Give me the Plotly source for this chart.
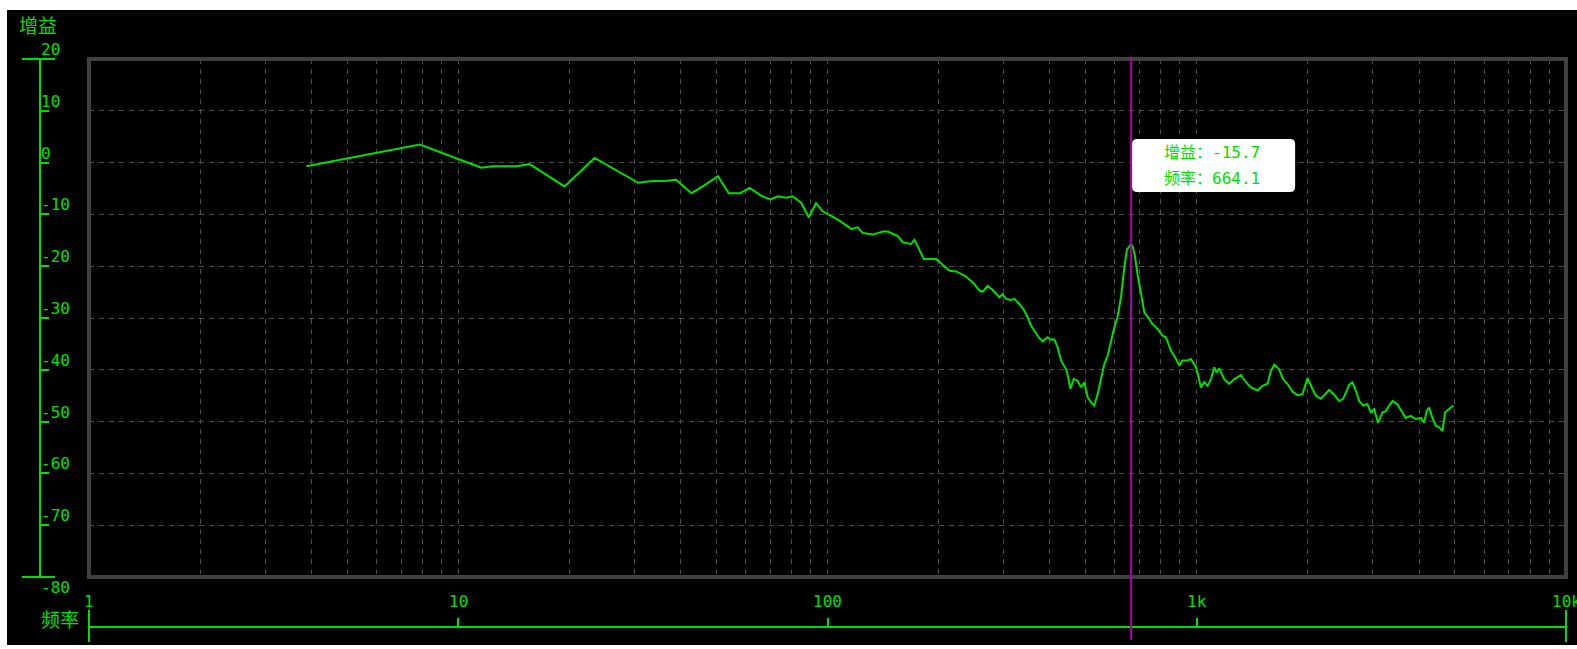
import math
import plotly.graph_objects as go

# Frequency response: frequency (Hz) and gain (dB)
FREQ = [3.88, 7.87, 11.55, 12.4, 14.4, 15.6, 19.4, 23.4, 30.7, 33.0, 36.6, 38.9,
        42.8, 46.4, 50.5, 54.0, 58.0, 61.5, 66.2, 70.0, 73.4, 77.3, 80.5, 84.9,
        89.0, 93.1, 97.1, 107.8, 115.9, 120.8, 124.6, 132.7, 141.2, 145.6, 155,
        160, 168.4, 172, 182.3, 196.8, 205, 214, 223, 227.6, 234.9, 247.4, 257.9,
        263.3, 271.5, 280.2, 292, 298, 304.4, 314, 320.7, 330.8, 341.3, 348.4,
        355.9, 363.3, 374.9, 382.5, 394.7, 403, 411.5, 420.2, 429, 442.6, 449,
        454.7, 464.2, 475.9, 486, 496, 506.5, 517, 528, 539, 550.4, 562, 573.8,
        586, 598, 610, 623.5, 636.6, 647, 655, 664.1, 672, 680, 691, 706, 721,
        743.6, 759, 783, 808, 825, 839, 851, 878.6, 896.7, 915, 944, 964, 978.5,
        995, 1009, 1026, 1048, 1070, 1093, 1115, 1132, 1150, 1187, 1225, 1264,
        1317, 1359, 1402, 1461, 1507, 1555, 1588, 1621, 1671, 1713, 1760, 1816,
        1875, 1933, 1995, 2058, 2102, 2168, 2213, 2283, 2355, 2430, 2492, 2586,
        2640, 2696, 2753, 2822, 2898, 2960, 3022, 3097, 3185, 3251, 3319, 3390,
        3497, 3606, 3681, 3798, 3918, 4044, 4128, 4198, 4258, 4330, 4436, 4532,
        4628, 4706, 4825, 4955]

GAIN = [-0.7, 3.5, -1.0, -0.7, -0.7, -0.3, -4.6, 0.9, -3.9, -3.6, -3.5, -3.3,
        -5.9, -4.4, -2.6, -5.9, -5.9, -4.9, -6.4, -7.1, -6.5, -6.8, -6.5, -7.8,
        -10.6, -7.8, -9.4, -11.2, -12.8, -12.5, -13.6, -13.9, -13.3, -13.3, -14.2,
        -15.4, -15.7, -14.9, -18.6, -18.6, -19.7, -20.9, -21.0, -21.3, -21.8, -23.1, -24.7,
        -24.9, -23.8, -24.6, -26.0, -25.4, -26.3, -26.5, -26.3, -27.3, -28.6, -29.9,
        -31.5, -32.5, -33.9, -34.5, -33.7, -34.2, -34.1, -35.7, -38.2, -39.9, -41.5,
        -43.7, -41.8, -42.1, -43.4, -42.4, -45.3, -46.3, -46.9, -44.7, -41.5, -38.9, -37.3,
        -34.5, -31.8, -29.9, -26.0, -20.2, -16.8, -16.3, -15.7, -16.4, -18.0, -21.5, -25.4, -28.9,
        -30.2, -31.2, -32.1, -33.4, -33.7, -35.0, -36.3, -37.9, -39.2, -38.2, -38.2, -37.9, -38.6,
        -39.5, -41.1, -43.4, -42.4, -43.1, -41.8, -39.5, -40.5, -39.7, -41.8, -42.7, -41.8,
        -41.0, -42.4, -43.4, -44.0, -43.1, -42.7, -40.2, -39.0, -39.9, -41.8, -42.7, -44.2,
        -44.9, -44.7, -41.6, -43.7, -45.0, -45.6, -45.0, -43.9, -44.8, -46.0, -45.6, -42.9,
        -42.4, -44.0, -46.0, -46.9, -46.6, -48.2, -47.6, -50.2, -48.2, -48.0, -46.9, -46.0,
        -46.7, -48.2, -49.3, -48.9, -49.5, -49.3, -50.2, -47.9, -47.3, -48.9, -50.8, -51.1,
        -51.8, -48.2, -47.6, -46.9]

# Cursor readout
CURSOR_FREQ = 664.1
CURSOR_GAIN = -15.7

# Axis ticks
Y_TICKS = [20, 10, 0, -10, -20, -30, -40, -50, -60, -70, -80]
X_TICKS = [1, 10, 100, 1000, 10000]
X_TICK_TEXT = ["1", "10", "100", "1k", "10k"]
X_GRID = [m * 10 ** d for d in range(4) for m in range(1, 10)] + [10000]

GREEN = "#00e000"
GRID = "#4d4d4d"
FRAME = "#404040"
MAGENTA = "#b000b0"
MONO = "DejaVu Sans Mono"
CJK = "Noto Sans CJK SC"

W, H = 1577, 649
ML, MR, MT, MB = 7, 0, 10, 4
PW, PH = W - ML - MR, H - MT - MB


def px_x(px):
    return (px - ML) / PW


def px_y(py):
    return (H - MB - py) / PH


fig = go.Figure()
fig.add_trace(go.Scatter(x=FREQ, y=GAIN, mode="lines",
                         line=dict(color=GREEN, width=2), hoverinfo="skip"))

fig.update_layout(
    width=W, height=H,
    margin=dict(l=ML, r=MR, t=MT, b=MB, pad=0),
    paper_bgcolor="white", plot_bgcolor="black",
    showlegend=False, hovermode=False,
    xaxis=dict(type="log", range=[0, 4], domain=[px_x(89), px_x(1566)],
               tickvals=X_GRID, showticklabels=False, ticks="",
               showgrid=True, gridcolor=GRID, gridwidth=1, griddash="5px,5px",
               showline=False, zeroline=False, anchor="y"),
    yaxis=dict(range=[-80, 20], domain=[px_y(577), px_y(59)],
               tickvals=Y_TICKS, showticklabels=False, ticks="",
               showgrid=True, gridcolor=GRID, gridwidth=1, griddash="5px,5px",
               showline=False, zeroline=False, anchor="x"),
    # bottom frequency axis
    xaxis2=dict(type="log", range=[0, 4], overlaying="x", anchor="free",
                position=px_y(627), side="top",
                tickvals=X_TICKS[1:-1], ticks="outside", ticklen=8, tickwidth=2,
                tickcolor=GREEN, showticklabels=False,
                showline=True, linecolor=GREEN, linewidth=2,
                showgrid=False, zeroline=False),
    # left gain axis
    yaxis2=dict(range=[-80, 20], overlaying="y", anchor="free",
                position=px_x(40), side="left",
                tickvals=Y_TICKS[1:-1], ticks="inside", ticklen=8, tickwidth=2,
                tickcolor=GREEN, showticklabels=False,
                showline=True, linecolor=GREEN, linewidth=2,
                showgrid=False, zeroline=False),
)
fig.add_trace(go.Scatter(x=[], y=[], xaxis="x2", yaxis="y2", hoverinfo="skip"))

shapes = [
    # black panel
    dict(type="rect", xref="paper", yref="paper", x0=0, x1=1, y0=0, y1=1,
         fillcolor="black", line=dict(width=0), layer="below"),
    # plot frame
    dict(type="rect", xref="x domain", yref="y domain", x0=0, x1=1, y0=0, y1=1,
         line=dict(color=FRAME, width=4), layer="above"),
    # end caps of the gain axis
    dict(type="line", xref="paper", yref="y domain", x0=px_x(22), x1=px_x(55),
         y0=1, y1=1, line=dict(color=GREEN, width=2)),
    dict(type="line", xref="paper", yref="y domain", x0=px_x(22), x1=px_x(55),
         y0=0, y1=0, line=dict(color=GREEN, width=2)),
    # end ticks of the frequency axis
    dict(type="line", xref="x domain", yref="paper", x0=0, x1=0,
         y0=px_y(642), y1=px_y(610), line=dict(color=GREEN, width=2)),
    dict(type="line", xref="x domain", yref="paper", x0=1, x1=1,
         y0=px_y(642), y1=px_y(610), line=dict(color=GREEN, width=2)),
    # cursor
    dict(type="line", xref="x", yref="paper", x0=CURSOR_FREQ, x1=CURSOR_FREQ,
         y0=px_y(640), y1=px_y(57), line=dict(color=MAGENTA, width=2), layer="above"),
    # readout box
    dict(type="path", xref="x", yref="paper", xsizemode="pixel", ysizemode="pixel",
         xanchor=CURSOR_FREQ, yanchor=px_y(165.5),
         path="M 6,-26.5 L 159,-26.5 Q 164,-26.5 164,-21.5 L 164,21.5 "
              "Q 164,26.5 159,26.5 L 6,26.5 Q 1,26.5 1,21.5 L 1,-21.5 "
              "Q 1,-26.5 6,-26.5 Z",
         fillcolor="white", line=dict(width=0), layer="above"),
]
fig.update_layout(shapes=shapes)

ann = []
tick_font = dict(family=MONO, size=16, color=GREEN)
for v in Y_TICKS:
    if v == Y_TICKS[-1]:
        ann.append(dict(xref="paper", yref="y", x=px_x(41), y=v, text=str(v),
                        xanchor="left", yanchor="top", yshift=-1, showarrow=False,
                        font=tick_font, borderpad=0, borderwidth=0))
    else:
        ann.append(dict(xref="paper", yref="y", x=px_x(41), y=v, text=str(v),
                        xanchor="left", yanchor="bottom", showarrow=False,
                        font=tick_font, borderpad=0, borderwidth=0))
# annotations on a log axis take log10 positions
for v, t in zip(X_TICKS, X_TICK_TEXT):
    ann.append(dict(xref="x", yref="paper", x=math.log10(v), y=px_y(611), text=t,
                    xanchor="center", yanchor="bottom", showarrow=False,
                    font=tick_font, borderpad=0, borderwidth=0))

title_font = dict(family=CJK, size=19, color=GREEN)
ann.append(dict(xref="paper", yref="paper", x=px_x(37.5), y=px_y(24), text="增益",
                xanchor="center", yanchor="middle", showarrow=False, font=title_font))
ann.append(dict(xref="paper", yref="paper", x=px_x(59.5), y=px_y(618.5), text="频率",
                xanchor="center", yanchor="middle", showarrow=False, font=title_font))

read_font = dict(family=f"{MONO}, {CJK}", size=16, color=GREEN)
cursor_lx = math.log10(CURSOR_FREQ)
ann.append(dict(xref="x", yref="paper", x=cursor_lx, y=px_y(153),
                text=f"增益：{CURSOR_GAIN}", xanchor="left", xshift=31,
                yanchor="middle", showarrow=False, font=read_font))
ann.append(dict(xref="x", yref="paper", x=cursor_lx, y=px_y(178),
                text=f"频率：{CURSOR_FREQ}", xanchor="left", xshift=31,
                yanchor="middle", showarrow=False, font=read_font))
fig.update_layout(annotations=ann)

fig.write_html("out.html")
